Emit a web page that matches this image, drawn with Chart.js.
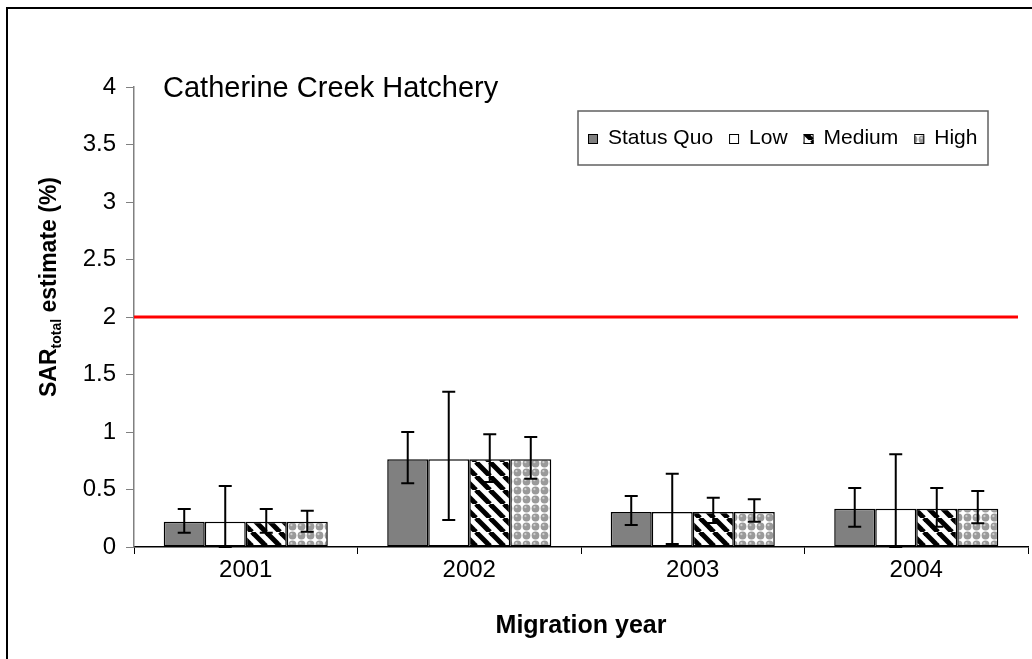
<!DOCTYPE html>
<html><head><meta charset="utf-8">
<script src="https://cdn.jsdelivr.net/npm/chart.js@4/dist/chart.umd.min.js"></script>
<style>html,body{margin:0;padding:0;background:#fff}#wrap{width:1032px;height:659px;position:relative}</style>
</head><body><div id="wrap"><canvas id="c"></canvas></div>
<script>
// ---- data ----
const categories = ['2001', '2002', '2003', '2004'];
const seriesNames = ['Status Quo', 'Low', 'Medium', 'High'];
const statusQuo = [0.22, 0.763, 0.304, 0.333];
const low = [0.22, 0.763, 0.304, 0.333];
const medium = [0.22, 0.763, 0.304, 0.333];
const high = [0.22, 0.763, 0.304, 0.333];
const statusQuoErrLow = [0.124, 0.554, 0.191, 0.177];
const statusQuoErrHigh = [0.33, 1.0, 0.443, 0.513];
const lowErrLow = [0, 0.235, 0.026, 0];
const lowErrHigh = [0.53, 1.35, 0.637, 0.806];
const mediumErrLow = [0.124, 0.565, 0.209, 0.177];
const mediumErrHigh = [0.33, 0.98, 0.429, 0.513];
const highErrLow = [0.133, 0.594, 0.22, 0.206];
const highErrHigh = [0.316, 0.957, 0.415, 0.487];
const threshold = 2;
const yTicks = [0, 0.5, 1, 1.5, 2, 2.5, 3, 3.5, 4];
const chartTitle = 'Catherine Creek Hatchery';
const xTitle = 'Migration year';

const FONT = '"Liberation Sans", Arial, Helvetica, sans-serif';

// ---- patterns ----
function makeStripes() {
  const s = 14, c = document.createElement('canvas');
  c.width = s; c.height = s;
  const g = c.getContext('2d');
  g.fillStyle = '#fff'; g.fillRect(0, 0, s, s);
  g.strokeStyle = '#000'; g.lineWidth = 5;
  for (let k = -1; k <= 1; k++) {
    g.beginPath(); g.moveTo(k * s, 0); g.lineTo(k * s + s, s); g.stroke();
  }
  return g.createPattern(c, 'repeat');
}
function makeDots() {
  const s = 9, c = document.createElement('canvas');
  c.width = s; c.height = s;
  const g = c.getContext('2d');
  g.fillStyle = '#fff'; g.fillRect(0, 0, s, s);
  g.fillStyle = '#9a9a9a';
  g.beginPath(); g.arc(4.5, 4.5, 3.9, 0, Math.PI * 2); g.fill();
  g.fillStyle = '#cfcfcf';
  g.beginPath(); g.arc(3.4, 3.2, 1.1, 0, Math.PI * 2); g.fill();
  return g.createPattern(c, 'repeat');
}
const fills = ['#808080', '#ffffff', makeStripes(), makeDots()];
const values = [statusQuo, low, medium, high];
const errLows = [statusQuoErrLow, lowErrLow, mediumErrLow, highErrLow];
const errHighs = [statusQuoErrHigh, lowErrHigh, mediumErrHigh, highErrHigh];

const datasets = seriesNames.map((name, i) => ({
  label: name,
  data: values[i],
  backgroundColor: fills[i],
  borderColor: '#000',
  borderWidth: 1.5,
  borderSkipped: false,
  errLow: errLows[i],
  errHigh: errHighs[i],
  categoryPercentage: 0.734,
  barPercentage: 1.0
}));

// ---- plugins ----
const framePlugin = {
  id: 'frame',
  beforeDraw(chart) {
    const ctx = chart.ctx;
    ctx.save();
    ctx.fillStyle = '#fff';
    ctx.fillRect(0, 0, chart.width, chart.height);
    ctx.strokeStyle = '#000'; ctx.lineWidth = 2;
    ctx.strokeRect(7, 8, chart.width + 20, chart.height + 20);
    ctx.restore();
  }
};

const overlayPlugin = {
  id: 'overlay',
  afterDatasetsDraw(chart) {
    const ctx = chart.ctx, ys = chart.scales.y, ca = chart.chartArea;
    ctx.save();
    // error bars
    ctx.strokeStyle = '#000'; ctx.lineWidth = 2;
    chart.data.datasets.forEach((ds, i) => {
      const meta = chart.getDatasetMeta(i);
      meta.data.forEach((el, j) => {
        const x = el.x;
        const yt = ys.getPixelForValue(ds.errHigh[j]);
        const yb = ys.getPixelForValue(ds.errLow[j]);
        const cw = 6.5;
        ctx.beginPath();
        ctx.moveTo(x, yt); ctx.lineTo(x, yb);
        ctx.moveTo(x - cw, yt); ctx.lineTo(x + cw, yt);
        ctx.moveTo(x - cw, yb); ctx.lineTo(x + cw, yb);
        ctx.stroke();
      });
    });
    // threshold line
    const yr = ys.getPixelForValue(threshold);
    ctx.strokeStyle = '#ff0000'; ctx.lineWidth = 3;
    ctx.beginPath(); ctx.moveTo(ca.left, yr); ctx.lineTo(ca.right - 10, yr); ctx.stroke();
    ctx.restore();
  },
  afterDraw(chart) {
    const ctx = chart.ctx;
    ctx.save();
    // chart title
    ctx.fillStyle = '#000';
    ctx.font = '29px ' + FONT;
    ctx.textBaseline = 'alphabetic'; ctx.textAlign = 'left';
    ctx.fillText(chartTitle, 163, 97);

    // y axis title with subscript
    const mainF = 'bold 23px ' + FONT, subF = 'bold 14px ' + FONT;
    const p1 = 'SAR', p2 = 'total', p3 = ' estimate (%)';
    ctx.font = mainF; const w1 = ctx.measureText(p1).width, w3 = ctx.measureText(p3).width;
    ctx.font = subF; const w2 = ctx.measureText(p2).width;
    const tw = w1 + w2 + w3;
    ctx.translate(56, 287);
    ctx.rotate(-Math.PI / 2);
    let x0 = -tw / 2;
    ctx.font = mainF; ctx.fillText(p1, x0, 0);
    ctx.font = subF; ctx.fillText(p2, x0 + w1, 5);
    ctx.font = mainF; ctx.fillText(p3, x0 + w1 + w2, 0);
    ctx.setTransform(1, 0, 0, 1, 0, 0);

    // legend box
    const bx = 578, by = 111, bw = 410, bh = 54;
    ctx.fillStyle = '#fff'; ctx.fillRect(bx, by, bw, bh);
    ctx.strokeStyle = '#606060'; ctx.lineWidth = 1.5;
    ctx.strokeRect(bx, by, bw, bh);
    ctx.font = '21px ' + FONT;
    ctx.textBaseline = 'alphabetic';
    let lx = bx + 10;
    const sw = 10, ty = 144;
    chart.data.datasets.forEach((ds, i) => {
      ctx.fillStyle = ds.backgroundColor;
      ctx.fillRect(lx, ty - 10, sw, sw);
      ctx.strokeStyle = '#000'; ctx.lineWidth = 1;
      ctx.strokeRect(lx + 0.5, ty - 9.5, sw - 1, sw - 1);
      ctx.fillStyle = '#000';
      ctx.fillText(ds.label, lx + sw + 10, ty);
      lx += sw + 10 + ctx.measureText(ds.label).width + 16;
    });
    ctx.restore();
  }
};

new Chart(document.getElementById('c'), {
  type: 'bar',
  data: { labels: categories, datasets },
  plugins: [framePlugin, overlayPlugin],
  options: {
    responsive: true,
    maintainAspectRatio: false,
    devicePixelRatio: 1,
    animation: false,
    layout: { padding: { left: 0, top: 87, right: 4, bottom: 0 } },
    plugins: { legend: { display: false }, title: { display: false }, tooltip: { enabled: false } },
    scales: {
      x: {
        offset: true,
        grid: { display: true, offset: true, drawOnChartArea: false, drawTicks: true, tickLength: 7, color: '#000', lineWidth: 1 },
        border: { display: true, color: '#000', width: 1.5 },
        ticks: { color: '#000', font: { family: FONT, size: 24 }, padding: 2, maxRotation: 0 },
        title: { display: true, text: xTitle, color: '#000', font: { family: FONT, size: 25, weight: 'bold' }, padding: { top: 0, bottom: 18 } },
        afterFit(scale) { scale.height = 112; }
      },
      y: {
        min: 0, max: 4,
        afterBuildTicks(scale) { scale.ticks = yTicks.map(v => ({ value: v })); },
        grid: { display: true, drawOnChartArea: false, drawTicks: true, tickLength: 8, color: '#808080', lineWidth: 1 },
        border: { display: true, color: '#808080', width: 1.5 },
        ticks: { color: '#000', font: { family: FONT, size: 24 }, padding: 10, callback: (v) => String(v) },
        afterFit(scale) { scale.width = 134; }
      }
    }
  }
});
</script>
</body></html>
